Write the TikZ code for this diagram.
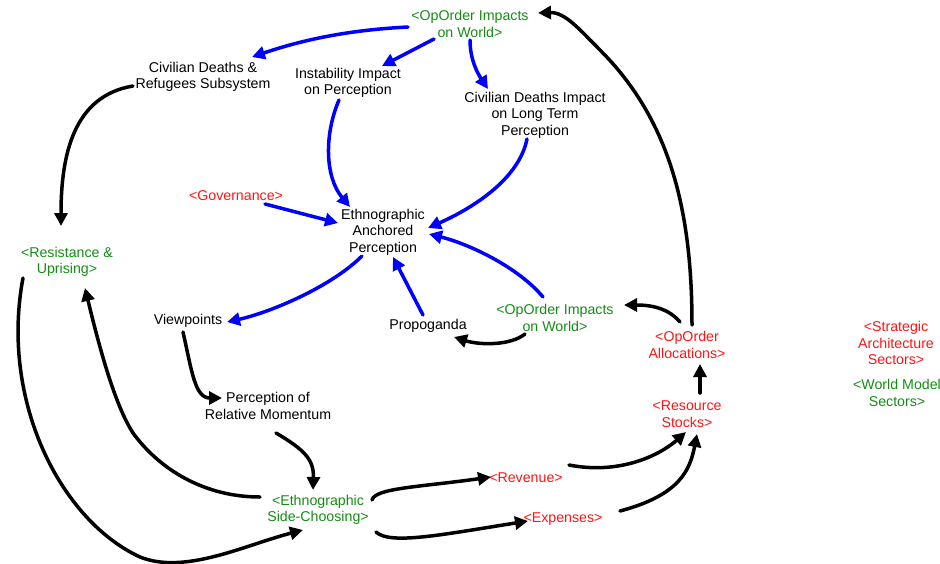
\documentclass[tikz,border=0pt]{standalone}
\usepackage{fontspec}
\setmainfont{Liberation Sans}
\usetikzlibrary{arrows.meta,calc}
\definecolor{vgreen}{RGB}{20,140,20}
\definecolor{vred}{RGB}{255,20,20}
\begin{document}
\begin{tikzpicture}[x=1pt, y=-1pt, line cap=round, line join=round,
  var/.style={align=center, inner sep=1pt, font=\fontsize{14.2}{16.5}\selectfont},
  shadowg/.style={var, text=vgreen},
  shadowr/.style={var, text=vred},
  link/.style={line width=3.5pt, -{Triangle[length=13pt,width=13pt]}},
  blink/.style={link, blue}]

\useasboundingbox (0,0) rectangle (940,563);

% variabili
\node[shadowg] (opw1) at (470,24) {<OpOrder Impacts\\on World>};
\node[var] (civref) at (203,77) {Civilian Deaths \&\\Refugees Subsystem};
\node[var] (instab) at (348,83) {Instability Impact\\on Perception};
\node[var] (civlong) at (535,115) {Civilian Deaths Impact\\on Long Term\\Perception};
\node[shadowr] (gov) at (236,196) {<Governance>};
\node[var] (eap) at (383,232) {Ethnographic\\Anchored\\Perception};
\node[shadowg] (resist) at (67,262) {<Resistance \&\\Uprising>};
\node[var] (viewp) at (188,321) {Viewpoints};
\node[var] (propo) at (428,326) {Propoganda};
\node[shadowg] (opw2) at (555,318) {<OpOrder Impacts\\on World>};
\node[shadowr] (opalloc) at (687,345) {<OpOrder\\Allocations>};
\node[shadowr] (strat) at (896,343) {<Strategic\\Architecture\\Sectors>};
\node[shadowg] (world) at (897,393) {<World Model\\Sectors>};
\node[shadowr] (stocks) at (687,414) {<Resource\\Stocks>};
\node[var] (percmom) at (268,406) {Perception of\\Relative Momentum};
\node[shadowr] (revenue) at (526,478) {<Revenue>};
\node[shadowr] (expenses) at (563,519) {<Expenses>};
\node[shadowg] (side) at (318,510) {<Ethnographic\\Side-Choosing>};

% legami blu
\draw[blink] ($(opw1)+(-62,3)$) .. controls +(-60,3) and +(50,-17) .. ($(civref)+(49,-20)$);
\draw[blink] ($(opw1)+(-36,15)$) -- ($(instab)+(34,-17)$);
\draw[blink] ($(opw1)+(0,16)$) .. controls +(0,20) and +(-10,-15) .. ($(civlong)+(-47,-26)$);
\draw[blink] ($(instab)+(-9,17)$) .. controls +(-15,35) and +(-25,-30) .. ($(eap)+(-33,-25)$);
\draw[blink] ($(civlong)+(-8,24)$) .. controls +(-8,40) and +(45,-20) .. ($(eap)+(45,-4)$);
\draw[blink] ($(gov)+(29,8)$) -- ($(eap)+(-45,-9)$);
\draw[blink] ($(opw2)+(-12,-21)$) .. controls +(-25,-30) and +(40,10) .. ($(eap)+(46,2)$);
\draw[blink] ($(propo)+(-5,-11)$) -- ($(eap)+(10,25)$);
\draw[blink] ($(eap)+(-21,24)$) .. controls +(-30,30) and +(45,-10) .. ($(viewp)+(39,1)$);

% legami neri in alto
\draw[link] ($(opalloc)+(5,-20)$) .. controls +(0,-115) and +(70,70) .. (600,50)
  .. controls +(-20,-20) and +(27,-1) .. ($(opw1)+(68,-11)$);
\draw[link] ($(opalloc)+(-7,-23)$) .. controls +(-10,-12) and +(31,0) .. ($(opw2)+(69,-13)$);
\draw[link] ($(opw2)+(-30,16)$) .. controls +(-15,12) and +(25,8) .. ($(propo)+(26,11)$);
\draw[link] ($(stocks)+(13,-21)$) -- ($(opalloc)+(13,19)$);
\draw[link] ($(civref)+(-70,9)$) .. controls +(-60,10) and +(0,-70) .. ($(resist)+(-6,-36)$);

% anello a sinistra
\draw[link] ($(side)+(-58,-13)$) .. controls +(-55,0) and +(27,37) .. (133,433)
  .. controls +(-18,-28) and +(15,62) .. ($(resist)+(18,26)$);
\draw[link] ($(resist)+(-44,16)$) .. controls +(-23,122) and +(-80,-37) .. (140,557)
  .. controls +(45,18) and +(-58,15) .. ($(side)+(-15,20)$);
\draw[link] ($(viewp)+(-5,11)$) .. controls +(9,40) and +(-27,0) .. ($(percmom)+(-46,-8)$);
\draw[link] ($(percmom)+(8,27)$) .. controls +(29,17) and +(1,-30) .. ($(side)+(-5,-20)$);

% risorse
\draw[link] ($(side)+(54,-10)$) .. controls +(3,-12) and +(-71,10) .. ($(revenue)+(-35,-1)$);
\draw[link] ($(side)+(58,22)$) .. controls +(14,13) and +(-88,14) .. ($(expenses)+(-35,2)$);
\draw[link] ($(revenue)+(43,-13)$) .. controls +(51,10) and +(-26,23) .. ($(stocks)+(-1,18)$);
\draw[link] ($(expenses)+(57,-8)$) .. controls +(60,-16) and +(-7,36) .. ($(stocks)+(10,20)$);

\end{tikzpicture}
\end{document}
